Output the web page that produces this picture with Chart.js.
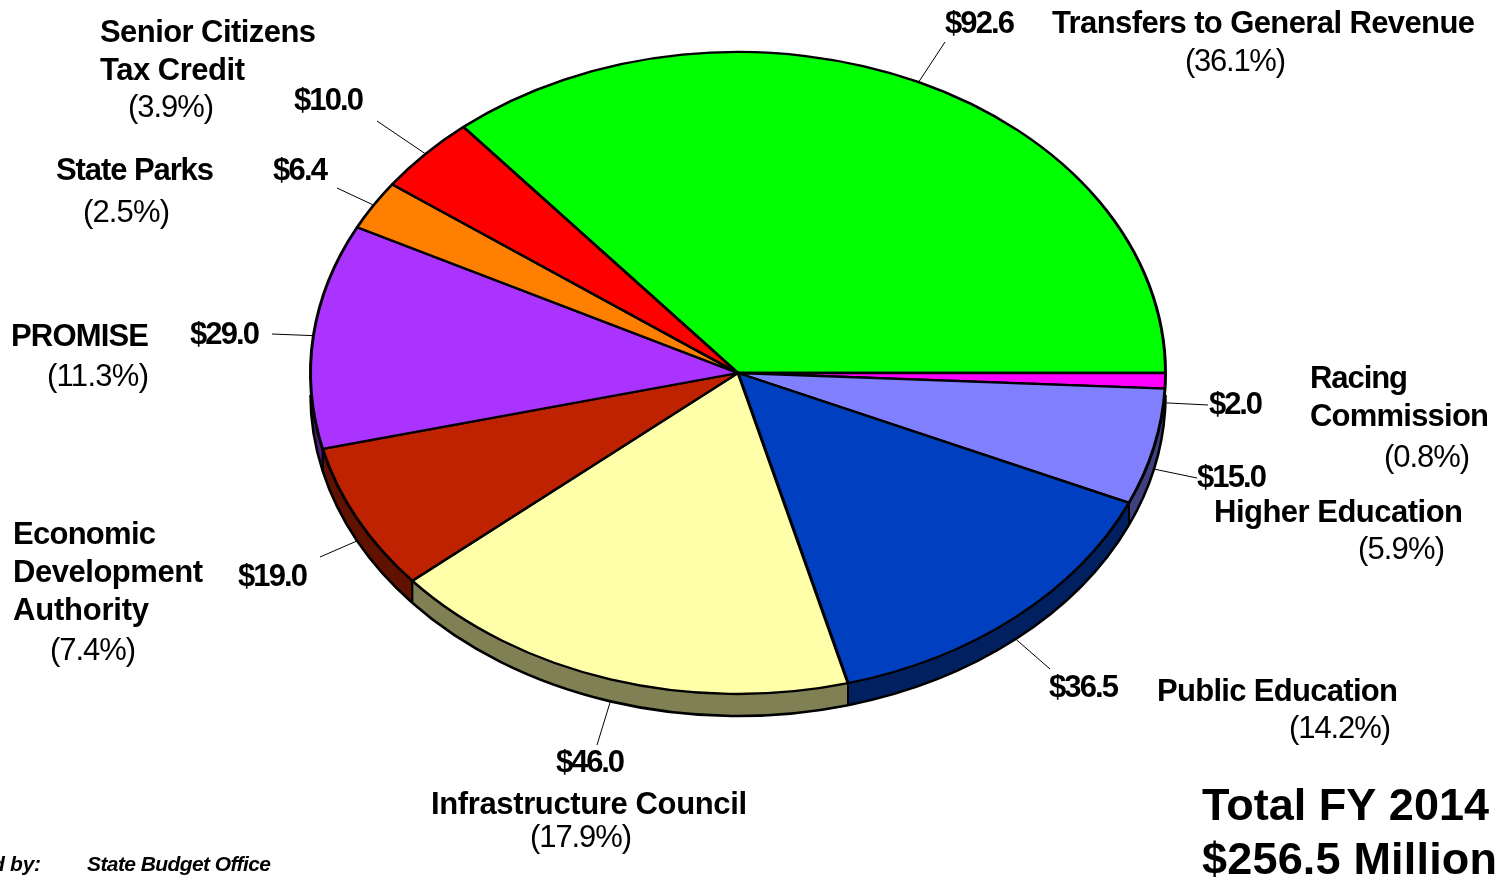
<!DOCTYPE html>
<html>
<head>
<meta charset="utf-8">
<style>html,body{margin:0;padding:0;background:#fff;overflow:hidden}canvas{display:block}</style>
<script src="https://cdn.jsdelivr.net/npm/chart.js@4"></script>
</head>
<body>
<canvas id="c" width="1503" height="880" style="width:1503px;height:880px"></canvas>
<script>
const categories = ['Transfers to General Revenue','Racing Commission','Higher Education','Public Education','Infrastructure Council','Economic Development Authority','PROMISE','State Parks','Senior Citizens Tax Credit'];
const values = [92.6, 2.0, 15.0, 36.5, 46.0, 19.0, 29.0, 6.4, 10.0];
const percents = ['(36.1%)','(0.8%)','(5.9%)','(14.2%)','(17.9%)','(7.4%)','(11.3%)','(2.5%)','(3.9%)'];
const colors = ['#00FF00','#FF00FF','#8080FF','#0040C0','#FFFFAA','#BF2200','#AA33FF','#FF8000','#FF0000'];
const rimColors = ['#008000','#800080','#404080','#002060','#808055','#601100','#551A80','#804000','#800000'];

// Layout of the picture (not data)
const CX = 738, CY = 373, RX = 427.5, RY = 321, RIM = 22;
const leaderEnds = [[945,42],[1208,405],[1197,478],[1050,669],[597,745],[320,557],[272,334],[337,188],[377,121]];
// name-line groups per slice: [text, left, right, baseline]
const nameLines = [
  [['Transfers to General Revenue',1052,1475,33]],
  [['Racing',1310,1408,388],['Commission',1310,1489,426]],
  [['Higher Education',1214,1463,522]],
  [['Public Education',1157,1398,701]],
  [['Infrastructure Council',431,747,814]],
  [['Economic',13,156,544],['Development',13,203,582],['Authority',13,149,620]],
  [['PROMISE',11,149,346]],
  [['State Parks',56,214,180]],
  [['Senior Citizens',100,316,42],['Tax Credit',100,245,80]]
];
const percentPos = [[1185,1286,71],[1384,1470,467],[1358,1445,559],[1289,1391,738],[530,632,847],[50,136,660],[47,149,386],[83,170,222],[128,214,117]];
const amountPos = [[945,1015,33],[1209,1263,414],[1197,1267,487],[1049,1119,697],[556,625,772],[238,308,586],[190,260,344],[273,328,180],[294,364,110]];
const totalLines = [['Total FY 2014',1202,1489,820],['$256.5 Million',1202,1497,874]];
const footLines = [['Prepared by:',-84,41,871],['State Budget Office',87,271,871]];

function fit(ctx, text, l, r, y, font){
  ctx.font = font;
  ctx.letterSpacing = '0px';
  const w = ctx.measureText(text).width;
  ctx.letterSpacing = ((r - l - w) / Math.max(1, text.length - 1)).toFixed(3) + 'px';
  ctx.fillText(text, l, y);
  ctx.letterSpacing = '0px';
}

const pie3d = {
  id: 'pie3d',
  beforeDatasetsDraw(chart){
    const ctx = chart.ctx, arcs = chart.getDatasetMeta(0).data;
    const cy0 = arcs[0].y, k = RY / arcs[0].outerRadius, sx = RX / arcs[0].outerRadius;
    const cx0 = arcs[0].x;
    ctx.save();
    // rim: lower half of the ellipse, shifted down
    arcs.forEach((a, i) => {
      const norm = t => { let v = t % (2*Math.PI); if (v < 0) v += 2*Math.PI; return v; };
      let s = norm(a.startAngle), e = s + (a.endAngle - a.startAngle);
      const ranges = [[s,e],[s-2*Math.PI,e-2*Math.PI]];
      ranges.forEach(([s0,e0]) => {
        const st = Math.max(s0,0), en = Math.min(e0,Math.PI);
        if (en <= st) return;
        ctx.beginPath();
        ctx.ellipse(CX, CY, RX, RY, 0, st, en);
        ctx.ellipse(CX, CY + RIM, RX, RY, 0, en, st, true);
        ctx.closePath();
        ctx.fillStyle = rimColors[i];
        ctx.fill();
        ctx.beginPath();
        ctx.ellipse(CX, CY + RIM, RX, RY, 0, st, en);
        ctx.strokeStyle = '#000';
        ctx.lineWidth = 2.6;
        ctx.stroke();
        [st, en].forEach(t => {
          if (t <= 0.02 || t >= Math.PI - 0.02) return;
          const x = CX + RX*Math.cos(t), y = CY + RY*Math.sin(t);
          ctx.beginPath(); ctx.moveTo(x,y); ctx.lineTo(x,y+RIM);
          ctx.lineWidth = 2; ctx.stroke();
        });
      });
    });
    // ellipse transform for the library's own slices
    ctx.translate(CX, CY);
    ctx.scale(sx, k);
    ctx.translate(-cx0, -cy0);
  },
  afterDatasetsDraw(chart){
    const ctx = chart.ctx, arcs = chart.getDatasetMeta(0).data;
    ctx.restore();
    // leaders
    ctx.strokeStyle = '#000';
    ctx.lineWidth = 1;
    arcs.forEach((a, i) => {
      const m = (a.startAngle + a.endAngle) / 2;
      let x = CX + (RX+1)*Math.cos(m), y = CY + (RY+1)*Math.sin(m);
      if (Math.sin(m) > 0) y += RIM;
      ctx.beginPath(); ctx.moveTo(x,y); ctx.lineTo(leaderEnds[i][0], leaderEnds[i][1]); ctx.stroke();
    });
    // texts
    ctx.fillStyle = '#000';
    ctx.textAlign = 'left';
    ctx.textBaseline = 'alphabetic';
    const bold = 'bold 31px "Liberation Sans"', reg = '31px "Liberation Sans"';
    values.forEach((v, i) => {
      fit(ctx, '$' + v.toFixed(1), amountPos[i][0], amountPos[i][1], amountPos[i][2], bold);
      nameLines[i].forEach(n => fit(ctx, n[0], n[1], n[2], n[3], bold));
      fit(ctx, percents[i], percentPos[i][0], percentPos[i][1], percentPos[i][2], reg);
    });
    totalLines.forEach(n => fit(ctx, n[0], n[1], n[2], n[3], 'bold 45px "Liberation Sans"'));
    footLines.forEach(n => fit(ctx, n[0], n[1], n[2], n[3], 'italic bold 21px "Liberation Sans"'));
  }
};

new Chart(document.getElementById('c'), {
  type: 'pie',
  data: {
    labels: categories,
    datasets: [{
      data: values,
      backgroundColor: colors,
      borderColor: '#000',
      borderWidth: 3,
      hoverOffset: 0,
      clip: false
    }]
  },
  options: {
    responsive: false,
    animation: false,
    rotation: 90 - 360 * values[0] / values.reduce((a, b) => a + b, 0),
    layout: { padding: { left: 0, right: 27, top: 0, bottom: 26 } },
    plugins: { legend: { display: false }, tooltip: { enabled: false } },
    events: []
  },
  plugins: [pie3d]
});
</script>
</body>
</html>
